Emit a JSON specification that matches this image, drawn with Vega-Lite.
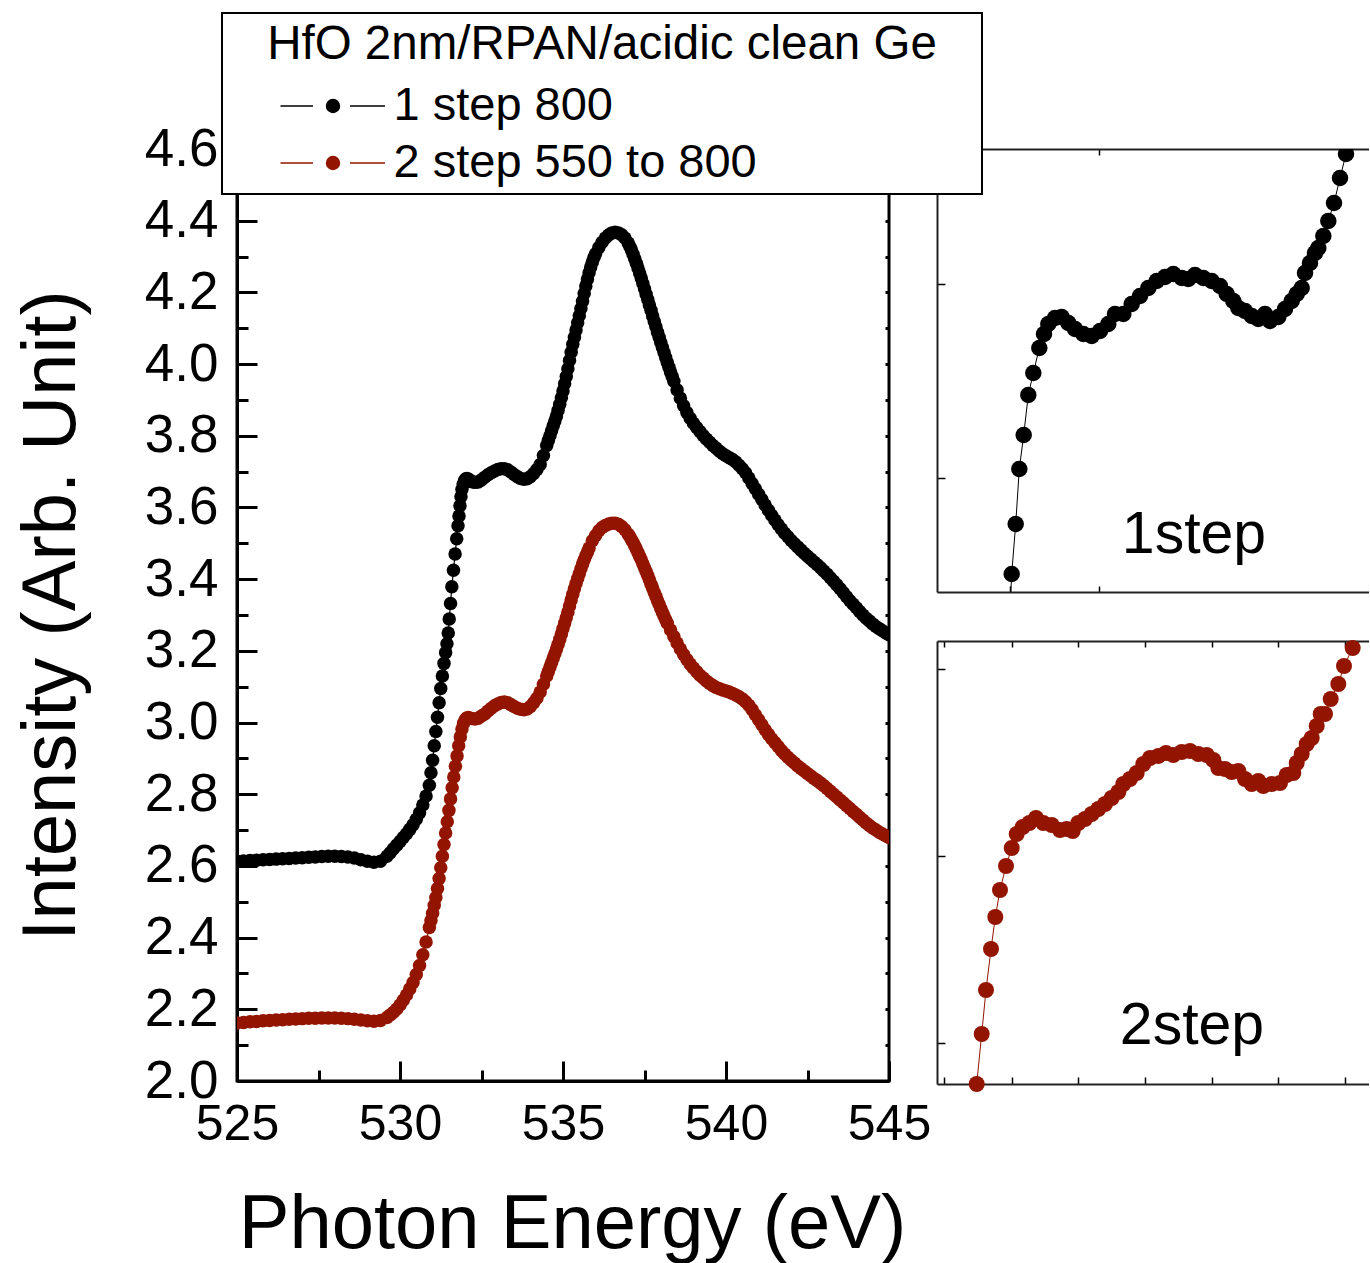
{
"$schema": "https://vega.github.io/schema/vega-lite/v6.json",
"background": "white",
"padding": {"left": 11, "top": 12, "right": 0, "bottom": 0},
"autosize": {"type": "pad"},
"config": {
  "font": "Liberation Sans",
  "axis": {"grid": false, "domainColor": "black", "tickColor": "black", "labelColor": "black", "titleColor": "black", "labelFont": "Liberation Sans", "titleFont": "Liberation Sans", "titleFontWeight": "normal", "labelFlush": false},
  "legend": {
    "orient": "none", "legendX": -15, "legendY": -136,
    "padding": 8, "strokeColor": "black", "fillColor": "white", "strokeWidth": 2,
    "titleFont": "Liberation Sans", "titleFontSize": 47.5, "titleFontWeight": "normal", "titleColor": "black", "titleAnchor": "middle", "titlePadding": 14, "titleLimit": 2000,
    "labelFont": "Liberation Sans", "labelFontSize": 47, "labelColor": "black", "labelLimit": 2000, "labelOffset": 37,
    "symbolType": "M-4.375,0H-1.667M1.417,0H4.333M-0.54,0A0.54,0.54,0,1,0,0.54,0A0.54,0.54,0,1,0,-0.54,0ZM53.1,0",
    "symbolSize": 576, "symbolOffset": 79.5, "symbolStrokeWidth": 1.5, "rowPadding": 9
  }
},
"datasets": {
  "k": [
{"e":525,"v":2.613},{"e":525.2,"v":2.614},{"e":525.4,"v":2.615},{"e":525.6,"v":2.616},{"e":525.8,"v":2.617},{"e":526,"v":2.618},{"e":526.2,"v":2.619},{"e":526.4,"v":2.62},{"e":526.6,"v":2.621},{"e":526.8,"v":2.622},{"e":527,"v":2.623},{"e":527.2,"v":2.624},{"e":527.4,"v":2.625},{"e":527.6,"v":2.626},{"e":527.8,"v":2.627},{"e":528,"v":2.627},{"e":528.2,"v":2.626},{"e":528.4,"v":2.625},{"e":528.6,"v":2.622},{"e":528.8,"v":2.617},{"e":529,"v":2.613},{"e":529.2,"v":2.61},{"e":529.4,"v":2.613},{"e":529.6,"v":2.627},{"e":529.7,"v":2.637},{"e":529.8,"v":2.648},{"e":529.9,"v":2.658},{"e":530,"v":2.668},{"e":530.1,"v":2.679},{"e":530.2,"v":2.69},{"e":530.3,"v":2.702},{"e":530.4,"v":2.715},{"e":530.5,"v":2.73},{"e":530.6,"v":2.748},{"e":530.7,"v":2.77},{"e":530.8,"v":2.795},{"e":530.9,"v":2.825},{"e":530.95,"v":2.86},{"e":531,"v":2.895},{"e":531.05,"v":2.935},{"e":531.1,"v":2.975},{"e":531.15,"v":3.015},{"e":531.2,"v":3.055},{"e":531.25,"v":3.095},{"e":531.3,"v":3.13},{"e":531.35,"v":3.165},{"e":531.4,"v":3.195},{"e":531.44,"v":3.22},{"e":531.48,"v":3.25},{"e":531.51,"v":3.289},{"e":531.55,"v":3.332},{"e":531.59,"v":3.379},{"e":531.64,"v":3.425},{"e":531.69,"v":3.47},{"e":531.74,"v":3.513},{"e":531.78,"v":3.549},{"e":531.81,"v":3.576},{"e":531.84,"v":3.605},{"e":531.87,"v":3.63},{"e":531.9,"v":3.65},{"e":531.94,"v":3.665},{"e":531.98,"v":3.675},{"e":532.02,"v":3.68},{"e":532.06,"v":3.681},{"e":532.1,"v":3.679},{"e":532.15,"v":3.675},{"e":532.2,"v":3.672},{"e":532.3,"v":3.67},{"e":532.4,"v":3.671},{"e":532.5,"v":3.677},{"e":532.6,"v":3.684},{"e":532.7,"v":3.691},{"e":532.8,"v":3.697},{"e":532.9,"v":3.702},{"e":533,"v":3.706},{"e":533.1,"v":3.708},{"e":533.2,"v":3.708},{"e":533.3,"v":3.705},{"e":533.4,"v":3.699},{"e":533.5,"v":3.692},{"e":533.6,"v":3.686},{"e":533.7,"v":3.681},{"e":533.8,"v":3.679},{"e":533.9,"v":3.68},{"e":534,"v":3.686},{"e":534.1,"v":3.695},{"e":534.2,"v":3.706},{"e":534.3,"v":3.72},{"e":534.4,"v":3.745},{"e":534.5,"v":3.773},{"e":534.55,"v":3.787},{"e":534.6,"v":3.8},{"e":534.65,"v":3.814},{"e":534.7,"v":3.828},{"e":534.75,"v":3.841},{"e":534.8,"v":3.855},{"e":534.85,"v":3.871},{"e":534.9,"v":3.888},{"e":534.95,"v":3.906},{"e":535,"v":3.925},{"e":535.05,"v":3.945},{"e":535.1,"v":3.965},{"e":535.15,"v":3.987},{"e":535.2,"v":4.01},{"e":535.25,"v":4.033},{"e":535.3,"v":4.055},{"e":535.35,"v":4.075},{"e":535.4,"v":4.095},{"e":535.45,"v":4.115},{"e":535.5,"v":4.135},{"e":535.55,"v":4.155},{"e":535.6,"v":4.175},{"e":535.65,"v":4.197},{"e":535.7,"v":4.218},{"e":535.75,"v":4.237},{"e":535.8,"v":4.255},{"e":535.85,"v":4.271},{"e":535.9,"v":4.285},{"e":535.95,"v":4.297},{"e":536,"v":4.308},{"e":536.1,"v":4.325},{"e":536.2,"v":4.34},{"e":536.3,"v":4.352},{"e":536.4,"v":4.36},{"e":536.5,"v":4.366},{"e":536.6,"v":4.368},{"e":536.7,"v":4.366},{"e":536.8,"v":4.361},{"e":536.9,"v":4.352},{"e":537,"v":4.338},{"e":537.05,"v":4.328},{"e":537.1,"v":4.318},{"e":537.15,"v":4.306},{"e":537.2,"v":4.294},{"e":537.25,"v":4.281},{"e":537.3,"v":4.268},{"e":537.35,"v":4.254},{"e":537.4,"v":4.24},{"e":537.45,"v":4.225},{"e":537.5,"v":4.21},{"e":537.55,"v":4.195},{"e":537.6,"v":4.18},{"e":537.65,"v":4.165},{"e":537.7,"v":4.15},{"e":537.75,"v":4.134},{"e":537.8,"v":4.119},{"e":537.85,"v":4.104},{"e":537.9,"v":4.089},{"e":537.95,"v":4.075},{"e":538,"v":4.06},{"e":538.05,"v":4.046},{"e":538.1,"v":4.032},{"e":538.15,"v":4.018},{"e":538.2,"v":4.004},{"e":538.25,"v":3.991},{"e":538.3,"v":3.978},{"e":538.35,"v":3.965},{"e":538.4,"v":3.952},{"e":538.5,"v":3.928},{"e":538.6,"v":3.905},{"e":538.7,"v":3.884},{"e":538.8,"v":3.865},{"e":538.9,"v":3.849},{"e":539,"v":3.835},{"e":539.1,"v":3.823},{"e":539.2,"v":3.812},{"e":539.3,"v":3.801},{"e":539.4,"v":3.791},{"e":539.5,"v":3.782},{"e":539.6,"v":3.773},{"e":539.7,"v":3.765},{"e":539.8,"v":3.757},{"e":539.9,"v":3.75},{"e":540,"v":3.744},{"e":540.1,"v":3.739},{"e":540.2,"v":3.734},{"e":540.3,"v":3.727},{"e":540.4,"v":3.718},{"e":540.5,"v":3.708},{"e":540.6,"v":3.697},{"e":540.7,"v":3.682},{"e":540.8,"v":3.667},{"e":540.9,"v":3.652},{"e":541,"v":3.637},{"e":541.1,"v":3.622},{"e":541.2,"v":3.607},{"e":541.3,"v":3.592},{"e":541.4,"v":3.578},{"e":541.5,"v":3.565},{"e":541.6,"v":3.552},{"e":541.7,"v":3.54},{"e":541.8,"v":3.528},{"e":541.9,"v":3.518},{"e":542,"v":3.508},{"e":542.1,"v":3.499},{"e":542.2,"v":3.49},{"e":542.3,"v":3.481},{"e":542.4,"v":3.472},{"e":542.5,"v":3.464},{"e":542.6,"v":3.456},{"e":542.7,"v":3.448},{"e":542.8,"v":3.44},{"e":542.9,"v":3.432},{"e":543,"v":3.423},{"e":543.1,"v":3.414},{"e":543.2,"v":3.404},{"e":543.3,"v":3.394},{"e":543.4,"v":3.384},{"e":543.5,"v":3.373},{"e":543.6,"v":3.362},{"e":543.7,"v":3.351},{"e":543.8,"v":3.34},{"e":543.9,"v":3.33},{"e":544,"v":3.32},{"e":544.1,"v":3.31},{"e":544.2,"v":3.3},{"e":544.3,"v":3.291},{"e":544.4,"v":3.283},{"e":544.5,"v":3.275},{"e":544.6,"v":3.268},{"e":544.7,"v":3.262},{"e":544.8,"v":3.256},{"e":544.9,"v":3.25},{"e":545,"v":3.245}
  ],
  "r": [
{"e":525,"v":2.162},{"e":525.2,"v":2.163},{"e":525.4,"v":2.165},{"e":525.6,"v":2.166},{"e":525.8,"v":2.168},{"e":526,"v":2.169},{"e":526.2,"v":2.17},{"e":526.4,"v":2.171},{"e":526.6,"v":2.172},{"e":526.8,"v":2.173},{"e":527,"v":2.174},{"e":527.2,"v":2.175},{"e":527.4,"v":2.175},{"e":527.6,"v":2.176},{"e":527.8,"v":2.176},{"e":528,"v":2.176},{"e":528.2,"v":2.175},{"e":528.4,"v":2.174},{"e":528.6,"v":2.172},{"e":528.8,"v":2.17},{"e":529,"v":2.168},{"e":529.2,"v":2.167},{"e":529.4,"v":2.169},{"e":529.6,"v":2.177},{"e":529.7,"v":2.184},{"e":529.8,"v":2.192},{"e":529.9,"v":2.201},{"e":530,"v":2.212},{"e":530.1,"v":2.225},{"e":530.2,"v":2.24},{"e":530.3,"v":2.257},{"e":530.4,"v":2.275},{"e":530.5,"v":2.297},{"e":530.6,"v":2.322},{"e":530.7,"v":2.352},{"e":530.8,"v":2.388},{"e":530.9,"v":2.428},{"e":530.95,"v":2.448},{"e":531,"v":2.468},{"e":531.05,"v":2.49},{"e":531.1,"v":2.512},{"e":531.15,"v":2.537},{"e":531.2,"v":2.565},{"e":531.25,"v":2.595},{"e":531.3,"v":2.627},{"e":531.35,"v":2.66},{"e":531.4,"v":2.692},{"e":531.45,"v":2.723},{"e":531.5,"v":2.755},{"e":531.55,"v":2.787},{"e":531.6,"v":2.818},{"e":531.65,"v":2.848},{"e":531.7,"v":2.878},{"e":531.75,"v":2.907},{"e":531.8,"v":2.935},{"e":531.85,"v":2.96},{"e":531.9,"v":2.982},{"e":531.95,"v":2.998},{"e":532,"v":3.008},{"e":532.05,"v":3.013},{"e":532.1,"v":3.014},{"e":532.2,"v":3.011},{"e":532.3,"v":3.01},{"e":532.4,"v":3.012},{"e":532.5,"v":3.018},{"e":532.6,"v":3.024},{"e":532.7,"v":3.032},{"e":532.8,"v":3.04},{"e":532.9,"v":3.047},{"e":533,"v":3.052},{"e":533.1,"v":3.056},{"e":533.2,"v":3.057},{"e":533.3,"v":3.055},{"e":533.4,"v":3.05},{"e":533.5,"v":3.045},{"e":533.6,"v":3.04},{"e":533.7,"v":3.037},{"e":533.8,"v":3.036},{"e":533.9,"v":3.038},{"e":534,"v":3.045},{"e":534.1,"v":3.055},{"e":534.2,"v":3.068},{"e":534.3,"v":3.085},{"e":534.4,"v":3.107},{"e":534.5,"v":3.13},{"e":534.55,"v":3.142},{"e":534.6,"v":3.155},{"e":534.65,"v":3.167},{"e":534.7,"v":3.18},{"e":534.75,"v":3.192},{"e":534.8,"v":3.205},{"e":534.85,"v":3.218},{"e":534.9,"v":3.232},{"e":534.95,"v":3.247},{"e":535,"v":3.262},{"e":535.05,"v":3.277},{"e":535.1,"v":3.292},{"e":535.15,"v":3.308},{"e":535.2,"v":3.325},{"e":535.25,"v":3.342},{"e":535.3,"v":3.358},{"e":535.35,"v":3.373},{"e":535.4,"v":3.388},{"e":535.45,"v":3.402},{"e":535.5,"v":3.415},{"e":535.55,"v":3.429},{"e":535.6,"v":3.442},{"e":535.65,"v":3.454},{"e":535.7,"v":3.465},{"e":535.75,"v":3.476},{"e":535.8,"v":3.487},{"e":535.9,"v":3.507},{"e":536,"v":3.522},{"e":536.1,"v":3.535},{"e":536.2,"v":3.544},{"e":536.3,"v":3.55},{"e":536.4,"v":3.554},{"e":536.5,"v":3.556},{"e":536.6,"v":3.556},{"e":536.7,"v":3.553},{"e":536.8,"v":3.547},{"e":536.9,"v":3.538},{"e":537,"v":3.525},{"e":537.05,"v":3.518},{"e":537.1,"v":3.51},{"e":537.15,"v":3.502},{"e":537.2,"v":3.493},{"e":537.25,"v":3.484},{"e":537.3,"v":3.474},{"e":537.35,"v":3.464},{"e":537.4,"v":3.454},{"e":537.45,"v":3.443},{"e":537.5,"v":3.432},{"e":537.55,"v":3.421},{"e":537.6,"v":3.41},{"e":537.65,"v":3.398},{"e":537.7,"v":3.386},{"e":537.75,"v":3.375},{"e":537.8,"v":3.363},{"e":537.85,"v":3.352},{"e":537.9,"v":3.34},{"e":537.95,"v":3.329},{"e":538,"v":3.318},{"e":538.05,"v":3.307},{"e":538.1,"v":3.297},{"e":538.15,"v":3.287},{"e":538.2,"v":3.277},{"e":538.3,"v":3.258},{"e":538.4,"v":3.24},{"e":538.5,"v":3.222},{"e":538.6,"v":3.205},{"e":538.7,"v":3.19},{"e":538.8,"v":3.176},{"e":538.9,"v":3.163},{"e":539,"v":3.152},{"e":539.1,"v":3.142},{"e":539.2,"v":3.132},{"e":539.3,"v":3.124},{"e":539.4,"v":3.116},{"e":539.5,"v":3.109},{"e":539.6,"v":3.103},{"e":539.7,"v":3.098},{"e":539.8,"v":3.094},{"e":539.9,"v":3.091},{"e":540,"v":3.088},{"e":540.1,"v":3.085},{"e":540.2,"v":3.081},{"e":540.3,"v":3.077},{"e":540.4,"v":3.072},{"e":540.5,"v":3.066},{"e":540.6,"v":3.058},{"e":540.7,"v":3.048},{"e":540.8,"v":3.036},{"e":540.9,"v":3.022},{"e":541,"v":3.008},{"e":541.1,"v":2.994},{"e":541.2,"v":2.98},{"e":541.3,"v":2.967},{"e":541.4,"v":2.955},{"e":541.5,"v":2.944},{"e":541.6,"v":2.933},{"e":541.7,"v":2.922},{"e":541.8,"v":2.912},{"e":541.9,"v":2.903},{"e":542,"v":2.895},{"e":542.1,"v":2.887},{"e":542.2,"v":2.879},{"e":542.3,"v":2.872},{"e":542.4,"v":2.865},{"e":542.5,"v":2.858},{"e":542.6,"v":2.851},{"e":542.7,"v":2.844},{"e":542.8,"v":2.838},{"e":542.9,"v":2.831},{"e":543,"v":2.824},{"e":543.1,"v":2.816},{"e":543.2,"v":2.808},{"e":543.3,"v":2.8},{"e":543.4,"v":2.792},{"e":543.5,"v":2.784},{"e":543.6,"v":2.776},{"e":543.7,"v":2.768},{"e":543.8,"v":2.76},{"e":543.9,"v":2.752},{"e":544,"v":2.744},{"e":544.1,"v":2.736},{"e":544.2,"v":2.728},{"e":544.3,"v":2.72},{"e":544.4,"v":2.713},{"e":544.5,"v":2.706},{"e":544.6,"v":2.7},{"e":544.7,"v":2.694},{"e":544.8,"v":2.689},{"e":544.9,"v":2.684},{"e":545,"v":2.679}
  ],
  "i1": [
{"e":531.715,"v":3.451},{"e":531.747,"v":3.518},{"e":531.787,"v":3.568},{"e":531.823,"v":3.623},{"e":531.867,"v":3.657},{"e":531.913,"v":3.697},{"e":531.963,"v":3.719},{"e":532.023,"v":3.744},{"e":532.07,"v":3.758},{"e":532.113,"v":3.768},{"e":532.18,"v":3.774},{"e":532.247,"v":3.775},{"e":532.313,"v":3.769},{"e":532.38,"v":3.763},{"e":532.463,"v":3.758},{"e":532.547,"v":3.756},{"e":532.63,"v":3.761},{"e":532.713,"v":3.768},{"e":532.78,"v":3.778},{"e":532.863,"v":3.778},{"e":532.947,"v":3.788},{"e":533.03,"v":3.796},{"e":533.113,"v":3.804},{"e":533.197,"v":3.811},{"e":533.28,"v":3.815},{"e":533.363,"v":3.818},{"e":533.447,"v":3.814},{"e":533.513,"v":3.813},{"e":533.58,"v":3.817},{"e":533.663,"v":3.814},{"e":533.747,"v":3.811},{"e":533.83,"v":3.806},{"e":533.897,"v":3.798},{"e":533.963,"v":3.791},{"e":534.013,"v":3.784},{"e":534.08,"v":3.781},{"e":534.147,"v":3.776},{"e":534.213,"v":3.773},{"e":534.28,"v":3.778},{"e":534.33,"v":3.771},{"e":534.413,"v":3.775},{"e":534.48,"v":3.783},{"e":534.547,"v":3.791},{"e":534.597,"v":3.798},{"e":534.647,"v":3.804},{"e":534.68,"v":3.819},{"e":534.73,"v":3.829},{"e":534.78,"v":3.839},{"e":534.813,"v":3.844},{"e":534.863,"v":3.856},{"e":534.913,"v":3.871},{"e":534.97,"v":3.889},{"e":535.03,"v":3.914},{"e":535.09,"v":3.938}
  ],
  "i2": [
{"e":531.397,"v":2.8},{"e":531.447,"v":2.85},{"e":531.49,"v":2.894},{"e":531.54,"v":2.935},{"e":531.583,"v":2.967},{"e":531.63,"v":2.994},{"e":531.69,"v":3.018},{"e":531.747,"v":3.036},{"e":531.797,"v":3.05},{"e":531.857,"v":3.057},{"e":531.923,"v":3.061},{"e":531.99,"v":3.066},{"e":532.063,"v":3.061},{"e":532.147,"v":3.059},{"e":532.23,"v":3.054},{"e":532.297,"v":3.055},{"e":532.357,"v":3.053},{"e":532.413,"v":3.061},{"e":532.48,"v":3.065},{"e":532.547,"v":3.07},{"e":532.613,"v":3.075},{"e":532.68,"v":3.08},{"e":532.747,"v":3.086},{"e":532.813,"v":3.092},{"e":532.863,"v":3.1},{"e":532.93,"v":3.105},{"e":532.997,"v":3.111},{"e":533.063,"v":3.12},{"e":533.13,"v":3.126},{"e":533.213,"v":3.128},{"e":533.29,"v":3.131},{"e":533.363,"v":3.129},{"e":533.447,"v":3.132},{"e":533.53,"v":3.133},{"e":533.613,"v":3.13},{"e":533.697,"v":3.129},{"e":533.763,"v":3.124},{"e":533.813,"v":3.116},{"e":533.88,"v":3.115},{"e":533.947,"v":3.112},{"e":534.013,"v":3.113},{"e":534.08,"v":3.105},{"e":534.147,"v":3.1},{"e":534.213,"v":3.103},{"e":534.263,"v":3.098},{"e":534.347,"v":3.1},{"e":534.43,"v":3.101},{"e":534.497,"v":3.109},{"e":534.563,"v":3.111},{"e":534.597,"v":3.121},{"e":534.647,"v":3.13},{"e":534.697,"v":3.14},{"e":534.747,"v":3.146},{"e":534.797,"v":3.158},{"e":534.837,"v":3.17},{"e":534.88,"v":3.17},{"e":534.937,"v":3.185},{"e":535.013,"v":3.2},{"e":535.07,"v":3.218},{"e":535.157,"v":3.236}
  ]
},
"bounds": "flush",
"spacing": 48,
"resolve": {"scale": {"color": "shared"}, "legend": {"color": "shared"}},
"hconcat": [
  {
    "width": 652, "height": 932,
    "view": {"stroke": "black", "strokeWidth": 3},
    "layer": [
      {"data": {"name": "k"}, "mark": {"type": "line", "strokeWidth": 1.2, "clip": true},
       "encoding": {
         "x": {"field": "e", "type": "quantitative", "scale": {"domain": [525, 545], "nice": false, "zero": false},
               "axis": {"orient": "bottom", "values": [525, 530, 535, 540, 545], "tickSize": -20, "tickWidth": 3, "domainWidth": 3, "labelPadding": 38, "labelFontSize": 50, "title": "Photon Energy (eV)", "titleFontSize": 76, "titlePadding": 38, "titleX": 335}},
         "y": {"field": "v", "type": "quantitative", "scale": {"domain": [2.0, 4.6], "nice": false, "zero": false},
               "axis": {"orient": "left", "values": [2.0, 2.2, 2.4, 2.6, 2.8, 3.0, 3.2, 3.4, 3.6, 3.8, 4.0, 4.2, 4.4, 4.6], "format": ".1f", "tickSize": -20, "tickWidth": 3, "domainWidth": 3, "labelPadding": 39, "labelFontSize": 53, "title": "Intensity (Arb. Unit)", "titleFontSize": 76, "titlePadding": 54}},
         "color": {"datum": "1 step 800", "type": "nominal", "scale": {"domain": ["1 step 800", "2 step 550 to 800"], "range": ["black", "#931500"]}, "title": "HfO 2nm/RPAN/acidic clean Ge"}
       }},
      {"data": {"name": "k"}, "mark": {"type": "point", "filled": true, "size": 182, "opacity": 1, "clip": true},
       "encoding": {
         "x": {"field": "e", "type": "quantitative", "scale": {"domain": [525, 545], "nice": false, "zero": false}, "axis": null},
         "y": {"field": "v", "type": "quantitative", "scale": {"domain": [2.0, 4.6], "nice": false, "zero": false}, "axis": null},
         "color": {"datum": "1 step 800", "type": "nominal", "scale": {"domain": ["1 step 800", "2 step 550 to 800"], "range": ["black", "#931500"]}, "title": "HfO 2nm/RPAN/acidic clean Ge"}
       }},
      {"data": {"name": "r"}, "mark": {"type": "line", "strokeWidth": 1.2, "clip": true},
       "encoding": {
         "x": {"field": "e", "type": "quantitative", "scale": {"domain": [525, 545], "nice": false, "zero": false}, "axis": null},
         "y": {"field": "v", "type": "quantitative", "scale": {"domain": [2.0, 4.6], "nice": false, "zero": false}, "axis": null},
         "color": {"datum": "2 step 550 to 800", "type": "nominal", "scale": {"domain": ["1 step 800", "2 step 550 to 800"], "range": ["black", "#931500"]}, "title": "HfO 2nm/RPAN/acidic clean Ge"}
       }},
      {"data": {"name": "r"}, "mark": {"type": "point", "filled": true, "size": 182, "opacity": 1, "clip": true},
       "encoding": {
         "x": {"field": "e", "type": "quantitative", "scale": {"domain": [525, 545], "nice": false, "zero": false}, "axis": null},
         "y": {"field": "v", "type": "quantitative", "scale": {"domain": [2.0, 4.6], "nice": false, "zero": false}, "axis": null},
         "color": {"datum": "2 step 550 to 800", "type": "nominal", "scale": {"domain": ["1 step 800", "2 step 550 to 800"], "range": ["black", "#931500"]}, "title": "HfO 2nm/RPAN/acidic clean Ge"}
       }},
      {"data": {"values": [{}]}, "mark": {"type": "point", "opacity": 0},
       "encoding": {
         "x": {"datum": 530, "type": "quantitative", "scale": {"domain": [525, 545], "nice": false, "zero": false},
               "axis": {"orient": "bottom", "values": [527.5, 532.5, 537.5, 542.5], "tickSize": -11, "tickWidth": 3, "labels": false, "domain": false, "title": null}},
         "y": {"datum": 3, "type": "quantitative", "scale": {"domain": [2.0, 4.6], "nice": false, "zero": false},
               "axis": {"orient": "left", "values": [2.1, 2.3, 2.5, 2.7, 2.9, 3.1, 3.3, 3.5, 3.7, 3.9, 4.1, 4.3, 4.5], "tickSize": -11, "tickWidth": 3, "labels": false, "domain": false, "title": null}}
       }},
      {"data": {"values": [{}]}, "mark": {"type": "point", "opacity": 0},
       "encoding": {
         "x": {"datum": 530, "type": "quantitative", "scale": {"domain": [525, 545], "nice": false, "zero": false}, "axis": null},
         "y": {"datum": 3, "type": "quantitative", "scale": {"domain": [2.0, 4.6], "nice": false, "zero": false},
               "axis": {"orient": "right", "values": [2.1, 2.2, 2.3, 2.4, 2.5, 2.6, 2.7, 2.8, 2.9, 3.0, 3.1, 3.2, 3.3, 3.4, 3.5, 3.6, 3.7, 3.8, 3.9, 4.0, 4.1, 4.2, 4.3, 4.4, 4.5], "tickSize": -4, "tickWidth": 3, "labels": false, "domain": false, "title": null}}
       }}
    ],
    "resolve": {"axis": {"x": "independent", "y": "independent"}}
  },
  {
    "bounds": "flush",
    "spacing": 49,
    "vconcat": [
      {
        "width": 432, "height": 443,
        "view": {"stroke": null},
        "layer": [
          {"data": {"name": "i1"}, "mark": {"type": "line", "color": "black", "strokeWidth": 1, "clip": true},
           "encoding": {
             "x": {"field": "e", "type": "quantitative", "scale": {"domain": [531, 535.32], "nice": false, "zero": false},
                   "axis": {"orient": "bottom", "values": [531.73, 532.62], "tickSize": -6, "tickWidth": 1.5, "domainWidth": 2, "domainColor": "#222", "labels": false, "title": null}},
             "y": {"field": "v", "type": "quantitative", "scale": {"domain": [3.5, 3.943], "nice": false, "zero": false},
                   "axis": {"orient": "left", "values": [3.614, 3.808], "tickSize": -8, "tickWidth": 1.5, "domainWidth": 2, "domainColor": "#222", "labels": false, "title": null}}
           }},
          {"data": {"name": "i1"}, "mark": {"type": "point", "filled": true, "size": 272, "opacity": 1, "strokeWidth": 0, "color": "black", "clip": true},
           "encoding": {
             "x": {"field": "e", "type": "quantitative", "scale": {"domain": [531, 535.32], "nice": false, "zero": false}, "axis": null},
             "y": {"field": "v", "type": "quantitative", "scale": {"domain": [3.5, 3.943], "nice": false, "zero": false}, "axis": null}
           }},
          {"data": {"values": [{}]}, "mark": {"type": "text", "text": "1step", "font": "Liberation Sans", "fontSize": 59, "align": "center", "baseline": "alphabetic", "color": "black"},
           "encoding": {
             "x": {"datum": 533.57, "type": "quantitative", "scale": {"domain": [531, 535.32], "nice": false, "zero": false}, "axis": null},
             "y": {"datum": 3.539, "type": "quantitative", "scale": {"domain": [3.5, 3.943], "nice": false, "zero": false}, "axis": null}
           }},
          {"data": {"values": [{}]}, "mark": {"type": "point", "opacity": 0},
           "encoding": {
             "x": {"datum": 533, "type": "quantitative", "scale": {"domain": [531, 535.32], "nice": false, "zero": false},
                   "axis": {"orient": "top", "values": [532.62], "tickSize": -6, "tickWidth": 1.5, "domainWidth": 2, "domainColor": "#222", "labels": false, "title": null}},
             "y": {"datum": 3.7, "type": "quantitative", "scale": {"domain": [3.5, 3.943], "nice": false, "zero": false}, "axis": null}
           }}
        ],
        "resolve": {"axis": {"x": "independent", "y": "independent"}}
      },
      {
        "width": 432, "height": 443,
        "view": {"stroke": null},
        "layer": [
          {"data": {"name": "i2"}, "mark": {"type": "line", "color": "#931500", "strokeWidth": 1},
           "encoding": {
             "x": {"field": "e", "type": "quantitative", "scale": {"domain": [531, 535.32], "nice": false, "zero": false},
                   "axis": {"orient": "bottom", "values": [531.07, 531.75, 532.41, 533.08, 533.75, 534.41, 535.08], "tickSize": -7, "tickWidth": 1.5, "domainWidth": 2, "domainColor": "#222", "labels": false, "title": null}},
             "y": {"field": "v", "type": "quantitative", "scale": {"domain": [2.8, 3.243], "nice": false, "zero": false},
                   "axis": {"orient": "left", "values": [2.841, 3.028, 3.215], "tickSize": -8, "tickWidth": 1.5, "domainWidth": 2, "domainColor": "#222", "labels": false, "title": null}}
           }},
          {"data": {"name": "i2"}, "mark": {"type": "point", "filled": true, "size": 256, "opacity": 1, "strokeWidth": 0, "color": "#931500"},
           "encoding": {
             "x": {"field": "e", "type": "quantitative", "scale": {"domain": [531, 535.32], "nice": false, "zero": false}, "axis": null},
             "y": {"field": "v", "type": "quantitative", "scale": {"domain": [2.8, 3.243], "nice": false, "zero": false}, "axis": null}
           }},
          {"data": {"values": [{}]}, "mark": {"type": "text", "text": "2step", "font": "Liberation Sans", "fontSize": 59, "align": "center", "baseline": "alphabetic", "color": "black"},
           "encoding": {
             "x": {"datum": 533.55, "type": "quantitative", "scale": {"domain": [531, 535.32], "nice": false, "zero": false}, "axis": null},
             "y": {"datum": 2.84, "type": "quantitative", "scale": {"domain": [2.8, 3.243], "nice": false, "zero": false}, "axis": null}
           }},
          {"data": {"values": [{}]}, "mark": {"type": "point", "opacity": 0},
           "encoding": {
             "x": {"datum": 533, "type": "quantitative", "scale": {"domain": [531, 535.32], "nice": false, "zero": false},
                   "axis": {"orient": "top", "values": [531.07, 531.75, 532.41, 533.08, 533.75, 534.41, 535.08], "tickSize": -6, "tickWidth": 1.5, "domainWidth": 2, "domainColor": "#222", "labels": false, "title": null}},
             "y": {"datum": 3, "type": "quantitative", "scale": {"domain": [2.8, 3.243], "nice": false, "zero": false}, "axis": null}
           }}
        ],
        "resolve": {"axis": {"x": "independent", "y": "independent"}}
      }
    ]
  }
]
}
